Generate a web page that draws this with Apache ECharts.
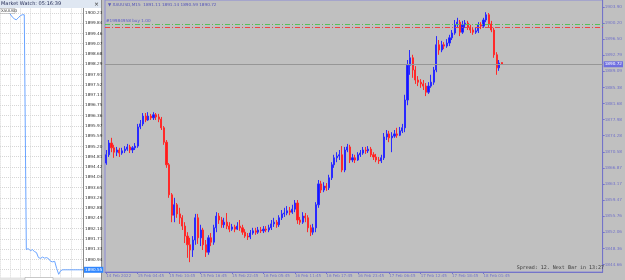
<!DOCTYPE html>
<html><head><meta charset="utf-8">
<script src="https://cdn.jsdelivr.net/npm/echarts@6/dist/echarts.min.js"></script>
<style>html,body{margin:0;padding:0;background:#c0c0c0}#c{width:625px;height:280px}</style>
</head><body><div id="c"></div>
<script>
// ---- data ----
const xTickLabels = ["14 Feb 2022","15 Feb 04:45","15 Feb 10:45","15 Feb 16:45","15 Feb 22:45","16 Feb 05:45","16 Feb 11:45","16 Feb 17:45","16 Feb 23:45","17 Feb 06:45","17 Feb 12:45","17 Feb 18:45","18 Feb 01:45"];
const priceTicks = [1903.90,1900.20,1896.50,1892.79,1889.09,1885.38,1881.68,1877.98,1874.28,1870.58,1866.87,1863.17,1859.47,1855.76,1852.06,1848.36,1844.66];
// [open, close, low, high]
const candles = [
[1868.0,1869.9,1867.6,1871.0],[1869.9,1872.6,1869.4,1873.3],[1872.6,1871.5,1870.5,1873.8],[1871.5,1870.5,1869.2,1872.2],
[1870.5,1871.0,1869.6,1871.7],[1871.0,1870.3,1869.4,1871.5],[1870.3,1870.8,1869.9,1871.5],[1870.8,1871.2,1870.3,1871.9],
[1871.2,1871.7,1870.8,1872.4],[1871.7,1871.0,1870.3,1872.2],[1871.0,1871.5,1870.3,1871.9],[1871.5,1871.9,1871.0,1872.6],
[1871.9,1876.3,1871.5,1877.0],[1876.3,1877.0,1875.8,1877.9],[1877.0,1878.8,1876.5,1879.5],[1878.8,1877.9,1877.4,1879.5],
[1877.9,1878.8,1877.7,1879.7],[1878.8,1878.4,1877.9,1879.3],[1878.4,1879.1,1877.9,1879.7],[1879.1,1878.6,1877.9,1879.5],
[1878.6,1878.1,1877.4,1879.3],[1878.1,1876.1,1875.6,1878.6],[1876.1,1872.8,1872.2,1876.5],[1872.8,1867.6,1866.9,1873.3],
[1867.6,1860.7,1860.0,1868.0],[1860.7,1856.0,1854.4,1861.1],[1856.0,1858.4,1854.4,1860.0],[1858.4,1856.3,1855.4,1858.8],
[1856.3,1855.4,1854.0,1857.7],[1855.4,1853.5,1852.6,1856.0],[1853.5,1851.2,1849.6,1854.4],[1851.2,1849.2,1846.2,1852.1],
[1849.2,1848.0,1845.2,1850.8],[1848.0,1850.3,1846.4,1851.2],[1850.3,1855.4,1849.2,1856.3],[1855.4,1850.8,1849.4,1856.3],
[1850.8,1852.6,1848.9,1853.8],[1852.6,1849.2,1848.0,1853.1],[1849.2,1847.5,1846.4,1850.3],[1847.5,1850.8,1846.9,1851.4],
[1850.8,1849.8,1848.9,1851.9],[1849.8,1853.1,1849.2,1853.8],[1853.1,1855.8,1852.1,1856.7],[1855.8,1854.9,1854.0,1856.5],
[1854.9,1853.8,1853.1,1855.6],[1853.8,1854.4,1853.1,1855.4],[1854.4,1853.5,1852.8,1856.5],[1853.5,1852.8,1852.1,1854.4],
[1852.8,1853.3,1852.4,1854.0],[1853.3,1852.8,1852.1,1853.8],[1852.8,1853.5,1852.6,1854.4],[1853.5,1853.1,1852.4,1854.9],
[1853.1,1852.1,1851.5,1853.8],[1852.1,1851.2,1850.8,1852.8],[1851.2,1851.0,1850.3,1851.9],[1851.0,1851.9,1850.5,1852.6],
[1851.9,1852.4,1851.5,1853.1],[1852.4,1852.1,1851.5,1853.1],[1852.1,1852.6,1851.7,1853.3],[1852.6,1852.4,1851.9,1853.3],
[1852.4,1852.8,1851.9,1853.5],[1852.8,1852.6,1852.1,1853.5],[1852.6,1853.1,1852.1,1853.8],[1853.1,1854.0,1852.6,1854.9],
[1854.0,1854.4,1853.3,1855.4],[1854.4,1853.8,1853.1,1854.9],[1853.8,1855.4,1853.3,1856.0],[1855.4,1856.3,1854.9,1857.2],
[1856.3,1856.5,1855.6,1857.7],[1856.5,1857.0,1856.0,1858.1],[1857.0,1856.7,1856.0,1857.9],[1856.7,1857.4,1856.3,1858.4],
[1857.4,1858.8,1856.7,1859.5],[1858.8,1854.9,1854.0,1859.5],[1854.9,1854.4,1853.8,1855.6],[1854.4,1855.8,1854.0,1856.7],
[1855.8,1855.4,1854.4,1856.5],[1855.4,1853.1,1852.1,1856.0],[1853.1,1852.1,1851.2,1853.8],[1852.1,1853.1,1851.5,1854.0],
[1853.1,1858.4,1852.1,1859.0],[1858.4,1863.2,1857.7,1864.1],[1863.2,1861.8,1861.1,1863.9],[1861.8,1862.7,1861.3,1863.6],
[1862.7,1862.3,1861.6,1863.4],[1862.3,1864.6,1861.8,1865.3],[1864.6,1867.6,1864.1,1868.2],[1867.6,1869.2,1866.9,1869.9],
[1869.2,1869.6,1868.2,1870.5],[1869.6,1869.9,1868.7,1871.0],[1869.9,1866.4,1865.9,1871.9],[1866.4,1871.0,1865.9,1871.7],
[1871.0,1871.7,1870.5,1872.4],[1871.7,1868.7,1868.0,1872.2],[1868.7,1869.2,1868.2,1870.1],[1869.2,1868.7,1868.0,1869.9],
[1868.7,1869.9,1868.5,1870.5],[1869.9,1870.3,1869.4,1871.0],[1870.3,1871.0,1869.9,1871.7],[1871.0,1870.8,1870.1,1871.7],
[1870.8,1871.2,1870.3,1871.9],[1871.2,1869.9,1869.4,1871.7],[1869.9,1869.4,1868.7,1870.5],[1869.4,1868.7,1868.2,1870.1],
[1868.7,1868.5,1867.8,1869.4],[1868.5,1869.2,1868.0,1869.9],[1869.2,1874.0,1868.7,1874.9],[1874.0,1874.7,1873.3,1875.6],
[1874.7,1873.8,1872.8,1875.4],[1873.8,1874.2,1870.5,1875.1],[1874.2,1874.7,1873.8,1875.6],[1874.7,1874.4,1873.8,1876.1],
[1874.4,1875.4,1874.2,1876.3],[1875.4,1876.1,1874.9,1877.0],[1876.1,1882.5,1875.1,1883.7],[1882.5,1890.5,1881.3,1891.7],
[1890.5,1892.2,1888.3,1894.0],[1892.2,1889.4,1887.6,1892.9],[1889.4,1887.1,1886.2,1890.3],[1887.1,1886.6,1885.7,1888.0],
[1886.6,1886.2,1885.3,1887.3],[1886.2,1885.7,1884.8,1887.1],[1885.7,1884.3,1883.4,1886.4],[1884.3,1885.7,1883.9,1886.6],
[1885.7,1886.6,1885.3,1888.3],[1886.6,1889.4,1886.0,1890.1],[1889.4,1895.2,1888.9,1897.2],[1895.2,1894.0,1892.9,1896.3],
[1894.0,1895.2,1893.5,1896.1],[1895.2,1894.9,1894.2,1895.8],[1894.9,1895.6,1894.5,1896.5],[1895.6,1896.8,1894.9,1897.5],
[1896.8,1897.9,1896.3,1898.6],[1897.9,1899.8,1897.5,1900.9],[1899.8,1900.4,1899.1,1901.4],[1900.4,1898.1,1897.2,1900.9],
[1898.1,1899.8,1897.7,1900.7],[1899.8,1900.2,1899.1,1900.9],[1900.2,1899.3,1898.6,1900.7],[1899.3,1898.6,1897.9,1899.8],
[1898.6,1898.1,1897.5,1899.1],[1898.1,1898.4,1897.7,1899.1],[1898.4,1899.8,1897.9,1900.4],[1899.8,1899.5,1898.8,1900.4],
[1899.5,1900.9,1899.1,1901.4],[1900.9,1902.1,1900.4,1902.7],[1902.1,1900.0,1899.3,1902.5],[1900.0,1898.6,1898.1,1900.7],
[1898.6,1892.9,1892.2,1899.1],[1892.9,1889.9,1888.3,1893.5],[1889.9,1891.0,1889.2,1891.7],[1891.11,1890.72,1890.59,1891.14]
];
const lastPrice = 1890.72;
const orderPrice = 1899.9;
const stopPrice = 1899.2;
// market watch tick chart
const tickLine = [1900.34,1900.38,1900.30,1900.27,1900.27,1900.19,1900.08,1900.01,1899.97,1900.04,1900.12,1900.16,1900.16,
 1891.31,1891.35,1891.27,1891.31,1891.24,1891.20,1891.01,1890.98,1891.03,1890.99,1891.01,1890.97,1890.87,1890.85,1890.87,
 1890.60,1890.38,1890.52,1890.55,1890.55,1890.55,1890.55,1890.55,1890.55,1890.55,1890.55,1890.55,1890.55,1890.55];
const tickLast = 1890.55;

// ---- chart ----
const FONT = 'DejaVu Sans';
const AX = '#7474c8';
const mainCats = Array.from({length: 190}, (_, i) => String(i));
const tickCats = tickLine.map((_, i) => String(i));
const chart = echarts.init(document.getElementById('c'), null, {renderer: 'canvas'});
chart.setOption({
  backgroundColor: '#c0c0c0',
  animation: false,
  grid: [
    {left: 0, top: 2.6, width: 83, height: 280.8, show: false},
    {left: 105, right: 18, top: 0, bottom: 8, show: true, backgroundColor: '#c0c0c0', borderColor: '#8a8ad6', borderWidth: 1}
  ],
  xAxis: [
    {gridIndex: 0, type: 'category', data: tickCats, boundaryGap: false,
     axisLine: {show: false}, axisTick: {show: false}, axisLabel: {show: false},
     splitLine: {show: true, interval: 4, lineStyle: {color: '#d6d6d6', type: 'dotted', width: 1}}},
    {gridIndex: 1, type: 'category', data: mainCats, boundaryGap: true,
     axisLine: {show: true, lineStyle: {color: AX, width: 1}},
     axisTick: {show: true, alignWithLabel: true, length: 2, lineStyle: {color: AX},
                interval: (i) => i % 12 === 0 && i / 12 < xTickLabels.length},
     axisLabel: {show: true, interval: 11, align: 'left', margin: 2, fontSize: 4, fontFamily: FONT, color: AX,
                 formatter: (v) => { const k = Number(v) / 12; return xTickLabels[k] || ''; }},
     splitLine: {show: false}}
  ],
  yAxis: [
    {gridIndex: 0, type: 'value', position: 'right', min: 1890.1658, max: 1900.6175, interval: 0.3871,
     axisLine: {show: true, onZero: false, lineStyle: {color: '#8c8c8c'}},
     axisTick: {show: false},
     axisLabel: {show: true, margin: 2, fontSize: 4.2, fontFamily: FONT, color: '#333',
                 formatter: (v) => (v > 1900.5 || v < 1890.3) ? '' : v.toFixed(2)},
     splitLine: {show: true, lineStyle: {color: '#d6d6d6', type: 'dotted', width: 1}}},
    {gridIndex: 1, type: 'value', position: 'right', min: 1842.94, max: 1905.5, scale: true,
     axisLine: {show: true, onZero: false, lineStyle: {color: AX}},
     axisTick: {show: true, length: 2, customValues: priceTicks, lineStyle: {color: AX}},
     axisLabel: {show: true, margin: 2, fontSize: 4.2, fontFamily: FONT, color: AX, customValues: priceTicks,
                 formatter: (v) => v.toFixed(2)},
     splitLine: {show: false}}
  ],
  series: [
    {type: 'line', xAxisIndex: 0, yAxisIndex: 0, data: tickLine, showSymbol: false, symbol: 'none',
     lineStyle: {color: '#6aa4ff', width: 1}, z: 3,
     markLine: {silent: true, symbol: 'none', animation: false,
       data: [{yAxis: tickLast}],
       lineStyle: {color: 'transparent', width: 0},
       label: {show: true, position: 'end', distance: 1, formatter: tickLast.toFixed(2),
               backgroundColor: '#2f86ff', color: '#fff', fontSize: 4.2, fontFamily: FONT, padding: [1, 1]}}},
    {type: 'candlestick', xAxisIndex: 1, yAxisIndex: 1, data: candles, barWidth: '62%',
     itemStyle: {color: '#1414ff', color0: '#ff1a1a', borderColor: '#2a2aff', borderColor0: '#ff2a2a', borderWidth: 1},
     markLine: {silent: true, symbol: 'none', animation: false,
       data: [
         {yAxis: lastPrice, lineStyle: {color: '#969696', type: 'solid', width: 1},
          label: {show: true, position: 'end', distance: 1, formatter: lastPrice.toFixed(2),
                  backgroundColor: '#6e6ee0', color: '#fff', fontSize: 4.2, fontFamily: FONT, padding: [1, 1]}},
         {yAxis: orderPrice, lineStyle: {color: '#58c058', type: [5, 2, 1, 2], width: 1},
          label: {show: true, position: 'insideStartTop', distance: 1, formatter: '#19984958 buy 1.00',
                  color: '#5a5ac8', fontSize: 4.2, fontFamily: FONT}},
         {yAxis: stopPrice, lineStyle: {color: '#ee4444', type: [5, 2, 1, 2], width: 1},
          label: {show: false}}
       ]}}
  ],
  graphic: [
    {type: 'rect', z: -1, shape: {x: 0, y: 0, width: 101, height: 280}, style: {fill: '#ffffff'}},
    {type: 'rect', z: -1, shape: {x: 101, y: 0, width: 1, height: 280}, style: {fill: '#8c8c8c'}},
    {type: 'rect', z: 10, shape: {x: 0, y: 0, width: 101, height: 8}, style: {fill: '#dfe7f2'}},
    {type: 'text', z: 11, left: 1, top: 1.5, style: {text: 'Market Watch: 05:16:39', fill: '#1c2450', font: '5px "DejaVu Sans"'}},
    {type: 'text', z: 11, left: 94, top: 1, style: {text: '×', fill: '#333', font: '6px "DejaVu Sans"'}},
    {type: 'rect', z: 10, shape: {x: 0, y: 8.5, width: 15, height: 5}, style: {fill: '#ffffff', stroke: '#9a9a9a', lineWidth: 0.5}},
    {type: 'text', z: 11, left: 1, top: 9, style: {text: 'XAUUSD', fill: '#333', font: '3.8px "DejaVu Sans"'}},
    {type: 'rect', z: 10, shape: {x: 0, y: 277.5, width: 101, height: 3}, style: {fill: '#e4e4e4'}},
    {type: 'rect', z: 10, shape: {x: 25, y: 277.5, width: 28, height: 3}, style: {fill: '#ffffff', stroke: '#9a9a9a', lineWidth: 0.5}},
    {type: 'text', z: 11, left: 108, top: 3, style: {text: '\u25BC XAUUSD,M15  1891.11 1891.14 1890.59 1890.72', fill: '#5656b8', font: '4.2px "DejaVu Sans"'}},
    {type: 'text', z: 11, right: 21, top: 265.5, style: {text: 'Spread: 12. Next Bar in 13:27', fill: '#3a3a3a', font: '5px "DejaVu Sans Mono"'}}
  ]
});
</script></body></html>
